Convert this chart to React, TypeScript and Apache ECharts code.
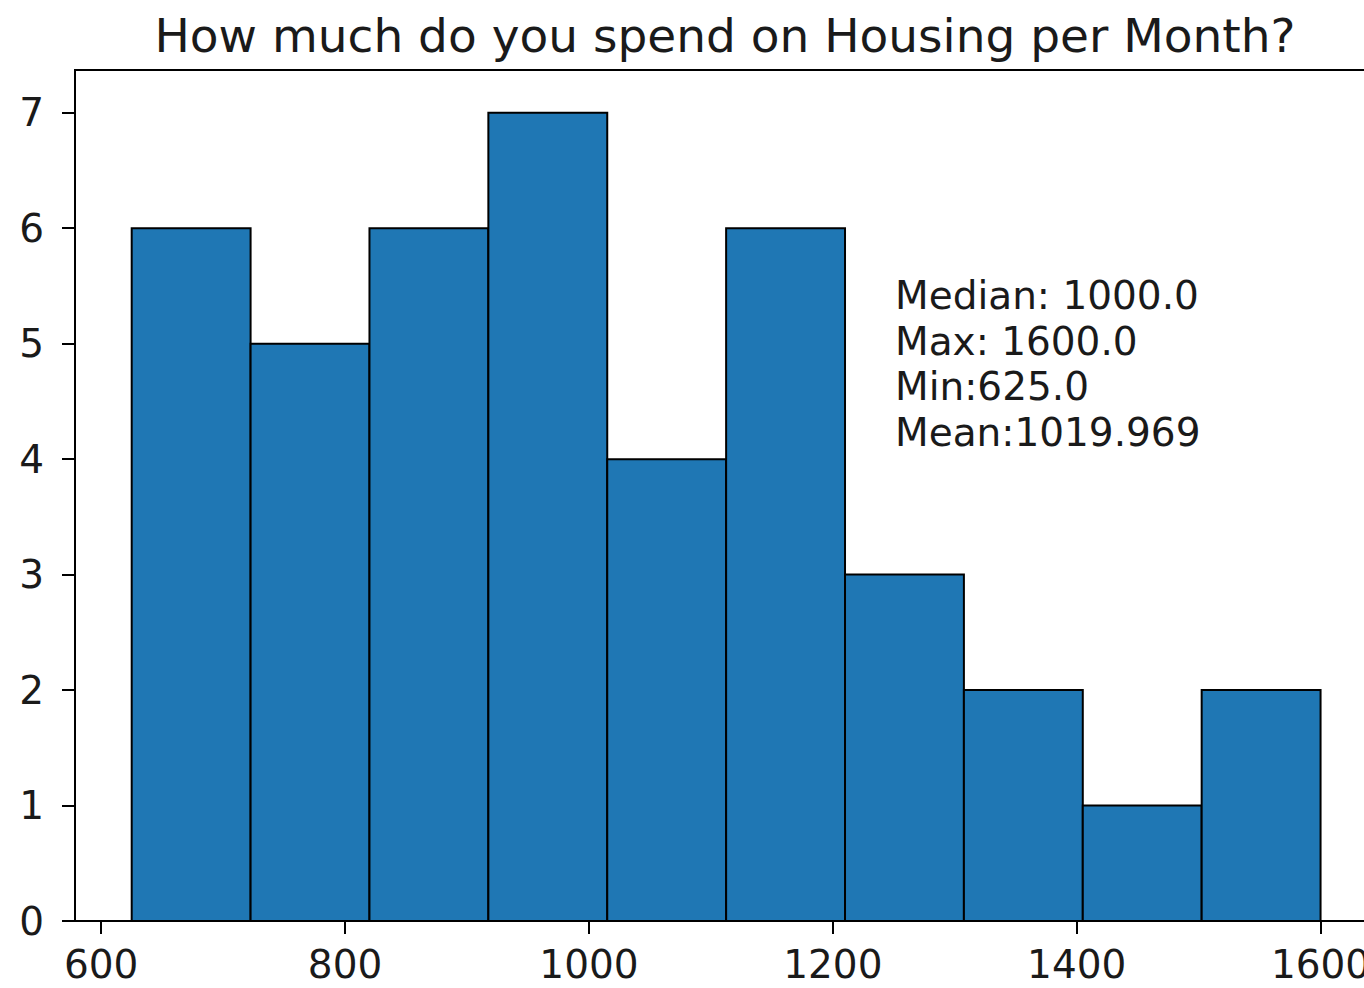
import React, { useEffect, useRef } from "react";
import * as echarts from "echarts";

const titleText = "How much do you spend on Housing per Month?";
const binEdges = [625, 722.5, 820, 917.5, 1015, 1112.5, 1210, 1307.5, 1405, 1502.5, 1600];
const counts = [6, 5, 6, 7, 4, 6, 3, 2, 1, 2];
const xTicks = [600, 800, 1000, 1200, 1400, 1600];
const yTicks = [0, 1, 2, 3, 4, 5, 6, 7];
const statsLines = ["Median: 1000.0", "Max: 1600.0", "Min:625.0", "Mean:1019.969"];

const FONT = "DejaVu Sans";

export default function App() {
  const ref = useRef<HTMLDivElement>(null);
  useEffect(() => {
    if (!ref.current) return;
    const chart = echarts.init(ref.current, null, { renderer: "svg" });
    const data = counts.map((c, i) => [binEdges[i], binEdges[i + 1], c]);
    chart.setOption({
      animation: false,
      backgroundColor: "#ffffff",
      grid: {
        left: 75,
        top: 70,
        width: 1305,
        height: 851,
        show: true,
        borderColor: "#000",
        borderWidth: 2,
        backgroundColor: "transparent",
      },
      xAxis: {
        type: "value",
        min: 578.5,
        max: 1648.75,
        splitLine: { show: false },
        axisLine: { show: true, lineStyle: { color: "#000", width: 2 } },
        axisTick: { show: true, length: 13, customValues: xTicks, lineStyle: { color: "#000", width: 2 } },
        axisLabel: {
          customValues: xTicks,
          formatter: (v: number) => String(v),
          margin: 24,
          fontFamily: FONT,
          fontSize: 39,
          color: "#1a1a1a",
        },
      },
      yAxis: {
        type: "value",
        min: 0,
        max: 7.37,
        splitLine: { show: false },
        axisLine: { show: true, lineStyle: { color: "#000", width: 2 } },
        axisTick: { show: true, length: 13, customValues: yTicks, lineStyle: { color: "#000", width: 2 } },
        axisLabel: {
          customValues: yTicks,
          formatter: (v: number) => String(v),
          margin: 31,
          fontFamily: FONT,
          fontSize: 39,
          color: "#1a1a1a",
        },
      },
      graphic: [
        {
          type: "text",
          x: 725,
          y: 35,
          style: {
            text: titleText,
            font: `47px "${FONT}"`,
            fill: "#1a1a1a",
            align: "center",
            verticalAlign: "middle",
          },
        },
        {
          type: "text",
          x: 895,
          y: 273,
          z: 10,
          style: {
            text: statsLines.join("\n"),
            font: `39px "${FONT}"`,
            lineHeight: 45.5,
            fill: "#1a1a1a",
            align: "left",
            verticalAlign: "top",
          },
        },
      ],
      series: [
        {
          type: "custom",
          data,
          encode: { x: [0, 1], y: 2 },
          renderItem: (_params: any, api: any) => {
            const p0 = api.coord([api.value(0), api.value(2)]);
            const p1 = api.coord([api.value(1), 0]);
            return {
              type: "rect",
              shape: { x: p0[0], y: p0[1], width: p1[0] - p0[0], height: p1[1] - p0[1] },
              style: { fill: "#1f77b4", stroke: "#000", lineWidth: 2 },
            };
          },
        },
      ],
    });
    return () => chart.dispose();
  }, []);
  return (
    <div style={{ position: "fixed", left: 0, top: 0, width: 1364, height: 988, overflow: "hidden", background: "#fff" }}>
      <div ref={ref} style={{ width: 1390, height: 988 }} />
    </div>
  );
}
